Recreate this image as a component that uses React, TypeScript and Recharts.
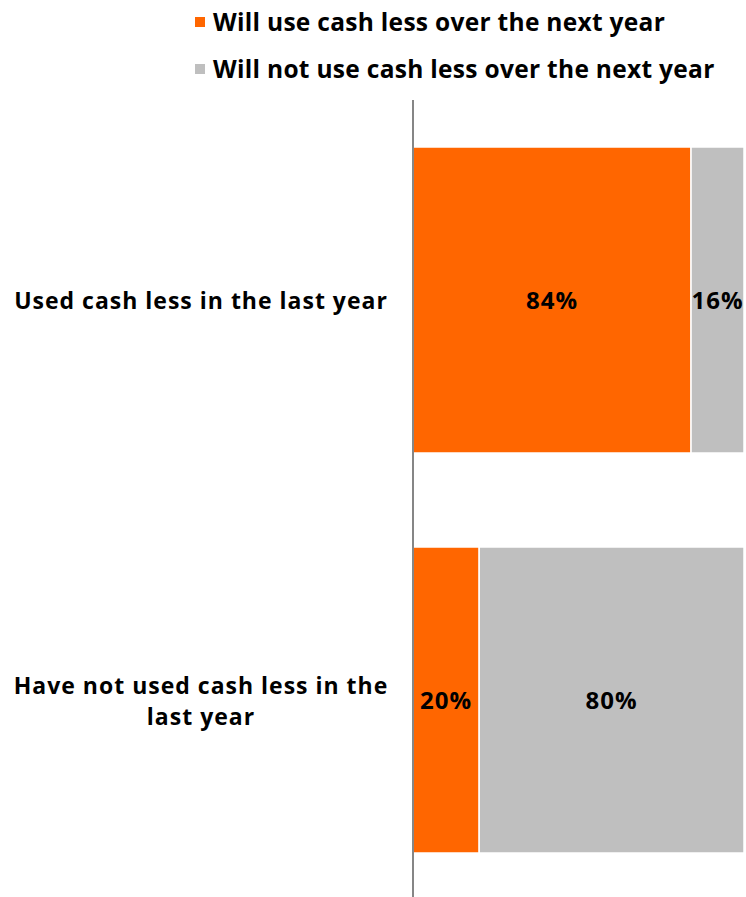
import { BarChart, Bar, XAxis, YAxis, LabelList } from 'recharts';

const categories = ['Used cash less in the last year', 'Have not used cash less in the last year'];
// category labels as they are broken over lines in the reference
const categoryLines = [['Used cash less in the last year'], ['Have not used cash less in the', 'last year']];
const willUseLess = [84, 20];
const willNotUseLess = [16, 80];
const seriesNames = ['Will use cash less over the next year', 'Will not use cash less over the next year'];

const ORANGE = '#FF6600';
const GREY = '#BFBFBF';
const FONT = '"Open Sans", "Noto Sans", sans-serif';

const data = categories.map((name, i) => ({
  name,
  will: willUseLess[i],
  willNot: willNotUseLess[i],
}));

function CategoryTick({ y, index }: { y?: number; index?: number }) {
  const lines = categoryLines[index ?? 0] ?? [];
  const lh = 31;
  const startY = (y ?? 0) - ((lines.length - 1) * lh) / 2;
  return (
    <text
      x={201}
      y={startY}
      textAnchor="middle"
      dominantBaseline="central"
      fill="#000"
      style={{ fontFamily: FONT, fontSize: 23, fontWeight: 700, letterSpacing: 1 }}
    >
      {lines.map((l, i) => (
        <tspan key={i} x={201} y={startY + i * lh}>
          {l}
        </tspan>
      ))}
    </text>
  );
}

function TopLegend() {
  const colors = [ORANGE, GREY];
  return (
    <div
      style={{
        position: 'absolute',
        left: 195,
        top: -2,
        fontFamily: FONT,
        fontSize: 24.5,
        fontWeight: 700,
        letterSpacing: 0.3,
        color: '#000',
        whiteSpace: 'nowrap',
      }}
    >
      {seriesNames.map((n, i) => (
        <div key={n} style={{ display: 'flex', alignItems: 'center', height: 47 }}>
          <span style={{ width: 10, height: 10, background: colors[i], marginRight: 8, flex: 'none' }} />
          <span>{n}</span>
        </div>
      ))}
    </div>
  );
}

const pct = (v: unknown) => `${v}%`;
const labelStyle = { fontFamily: FONT, fontSize: 24, fontWeight: 700, letterSpacing: 1 };

export default function App() {
  return (
    <div style={{ position: 'absolute', left: 0, top: 0, width: 746, height: 897, overflow: 'hidden', background: '#fff' }}>
      <BarChart
        width={746}
        height={900}
        data={data}
        layout="vertical"
        margin={{ top: 100, right: 2, bottom: 0, left: 0 }}
        barSize={306}
      >
        <XAxis type="number" domain={[0, 100]} hide />
        <YAxis
          type="category"
          dataKey="name"
          width={413}
          axisLine={{ stroke: '#868686', strokeWidth: 2 }}
          tickLine={false}
          tick={<CategoryTick />}
        />
        <Bar dataKey="will" stackId="a" fill={ORANGE} stroke="#fff" strokeWidth={1.5} isAnimationActive={false}>
          <LabelList dataKey="will" position="center" formatter={pct} fill="#000" style={labelStyle} />
        </Bar>
        <Bar dataKey="willNot" stackId="a" fill={GREY} stroke="#fff" strokeWidth={1.5} isAnimationActive={false}>
          <LabelList dataKey="willNot" position="center" formatter={pct} fill="#000" style={labelStyle} />
        </Bar>
      </BarChart>
      <TopLegend />
    </div>
  );
}
